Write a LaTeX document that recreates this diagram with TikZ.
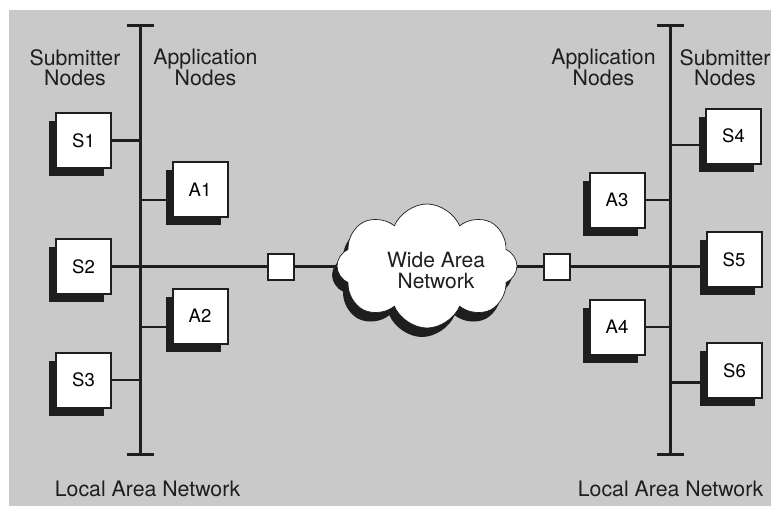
\documentclass[tikz,border=0pt]{standalone}
\usepackage{fontspec}
\setmainfont{TeX Gyre Heros}
\usetikzlibrary{shapes.symbols,shadows}
\definecolor{bgc}{RGB}{201,201,201}
\definecolor{ink}{RGB}{30,30,30}
\pgfdeclarelayer{bg}
\pgfsetlayers{bg,main}
\tikzset{
  hostbox/.style={draw=ink, line width=2pt, fill=white, minimum width=55pt, minimum height=55pt,
    inner sep=0pt, font=\fontsize{18.5}{18}\selectfont,
    drop shadow={shadow xshift=-7pt, shadow yshift=-8pt, opacity=1, fill=ink}},
  router/.style={draw=ink, line width=2pt, fill=white, minimum width=26pt, minimum height=26pt, inner sep=0pt},
  bus/.style={draw=ink, line width=3pt},
  link/.style={draw=ink, line width=2.2pt},
  lbl/.style={align=center, inner sep=0pt, font=\fontsize{21.3}{20}\selectfont, text=ink},
}
\begin{document}
\begin{tikzpicture}[x=1pt,y=-1pt]
\useasboundingbox (0,0) rectangle (771,506);
\begin{pgfonlayer}{bg}
\fill[bgc] (9,10) rectangle (771,506);
\end{pgfonlayer}

% bus end points
\coordinate (LT) at (140,25);
\coordinate (LB) at (140,454);
\coordinate (RT) at (670,25);
\coordinate (RB) at (670,454);

% hosts
\node[hostbox] (S1) at (83.5,140.5) {S1};
\node[hostbox] (S2) at (83.5,266.5) {S2};
\node[hostbox] (S3) at (83.5,380) {S3};
\node[hostbox] (A1) at (200,189.5) {A1};
\node[hostbox] (A2) at (200,316) {A2};
\node[hostbox] (A3) at (617,200) {A3};
\node[hostbox] (A4) at (617,327) {A4};
\node[hostbox] (S4) at (733.5,136) {S4};
\node[hostbox] (S5) at (734,259.5) {S5};
\node[hostbox] (S6) at (734.5,370.5) {S6};

% routers and WAN
\node[router] (R1) at (281,267) {};
\node[router] (R2) at (557,267) {};
\node[cloud, cloud puffs=8, cloud puff arc=135, aspect=1.45, draw=ink, line width=0.7pt, fill=white,
      minimum width=180pt, minimum height=124pt, inner sep=0pt, shape border rotate=10,
      drop shadow={shadow xshift=-5pt, shadow yshift=-9pt, opacity=1, fill=ink},
      label={[lbl, font=\fontsize{21}{21}\selectfont, xshift=9pt, yshift=-4pt]center:Wide Area\\Network}] (WAN) at (427,266) {};

% labels
\node[lbl] (subL) at (75,67.5) {Submitter\\Nodes};
\node[lbl] (appL) at (205.5,67.5) {Application\\Nodes};
\node[lbl] (appR) at (603.5,67.5) {Application\\Nodes};
\node[lbl] (subR) at (725,67.5) {Submitter\\Nodes};
\node[lbl] (lanL) at (147.5,489) {Local Area Network};
\node[lbl] (lanR) at (670.5,489) {Local Area Network};

\begin{pgfonlayer}{bg}
% buses
\draw[bus] (LT) -- (LB);
\draw[bus] ([xshift=-13.5pt]LT) -- ([xshift=13.5pt]LT);
\draw[bus] ([xshift=-13.5pt]LB) -- ([xshift=13.5pt]LB);
\draw[bus] (RT) -- (RB);
\draw[bus] ([xshift=-13.5pt]RT) -- ([xshift=13.5pt]RT);
\draw[bus] ([xshift=-13.5pt]RB) -- ([xshift=13.5pt]RB);
% links
\draw[link] (S1.east) -- (S1.east -| LT);
\draw[link] (S3.east) -- (S3.east -| LT);
\draw[link] (S2.east) -- (S2.east -| S5.west);
\coordinate (a1c) at ([yshift=-10.5pt]A1.west);
\coordinate (a2c) at ([yshift=-11pt]A2.west);
\draw[link] (a1c) -- (a1c -| LT);
\draw[link] (a2c) -- (a2c -| LT);
\draw[link] (A3.east) -- (A3.east -| RT);
\draw[link] (A4.east) -- (A4.east -| RT);
\coordinate (s4c) at ([yshift=-9pt]S4.west);
\coordinate (s6c) at ([yshift=-12pt]S6.west);
\draw[link] (s4c) -- (s4c -| RT);
\draw[link] (s6c) -- (s6c -| RT);
\end{pgfonlayer}
\end{tikzpicture}
\end{document}
